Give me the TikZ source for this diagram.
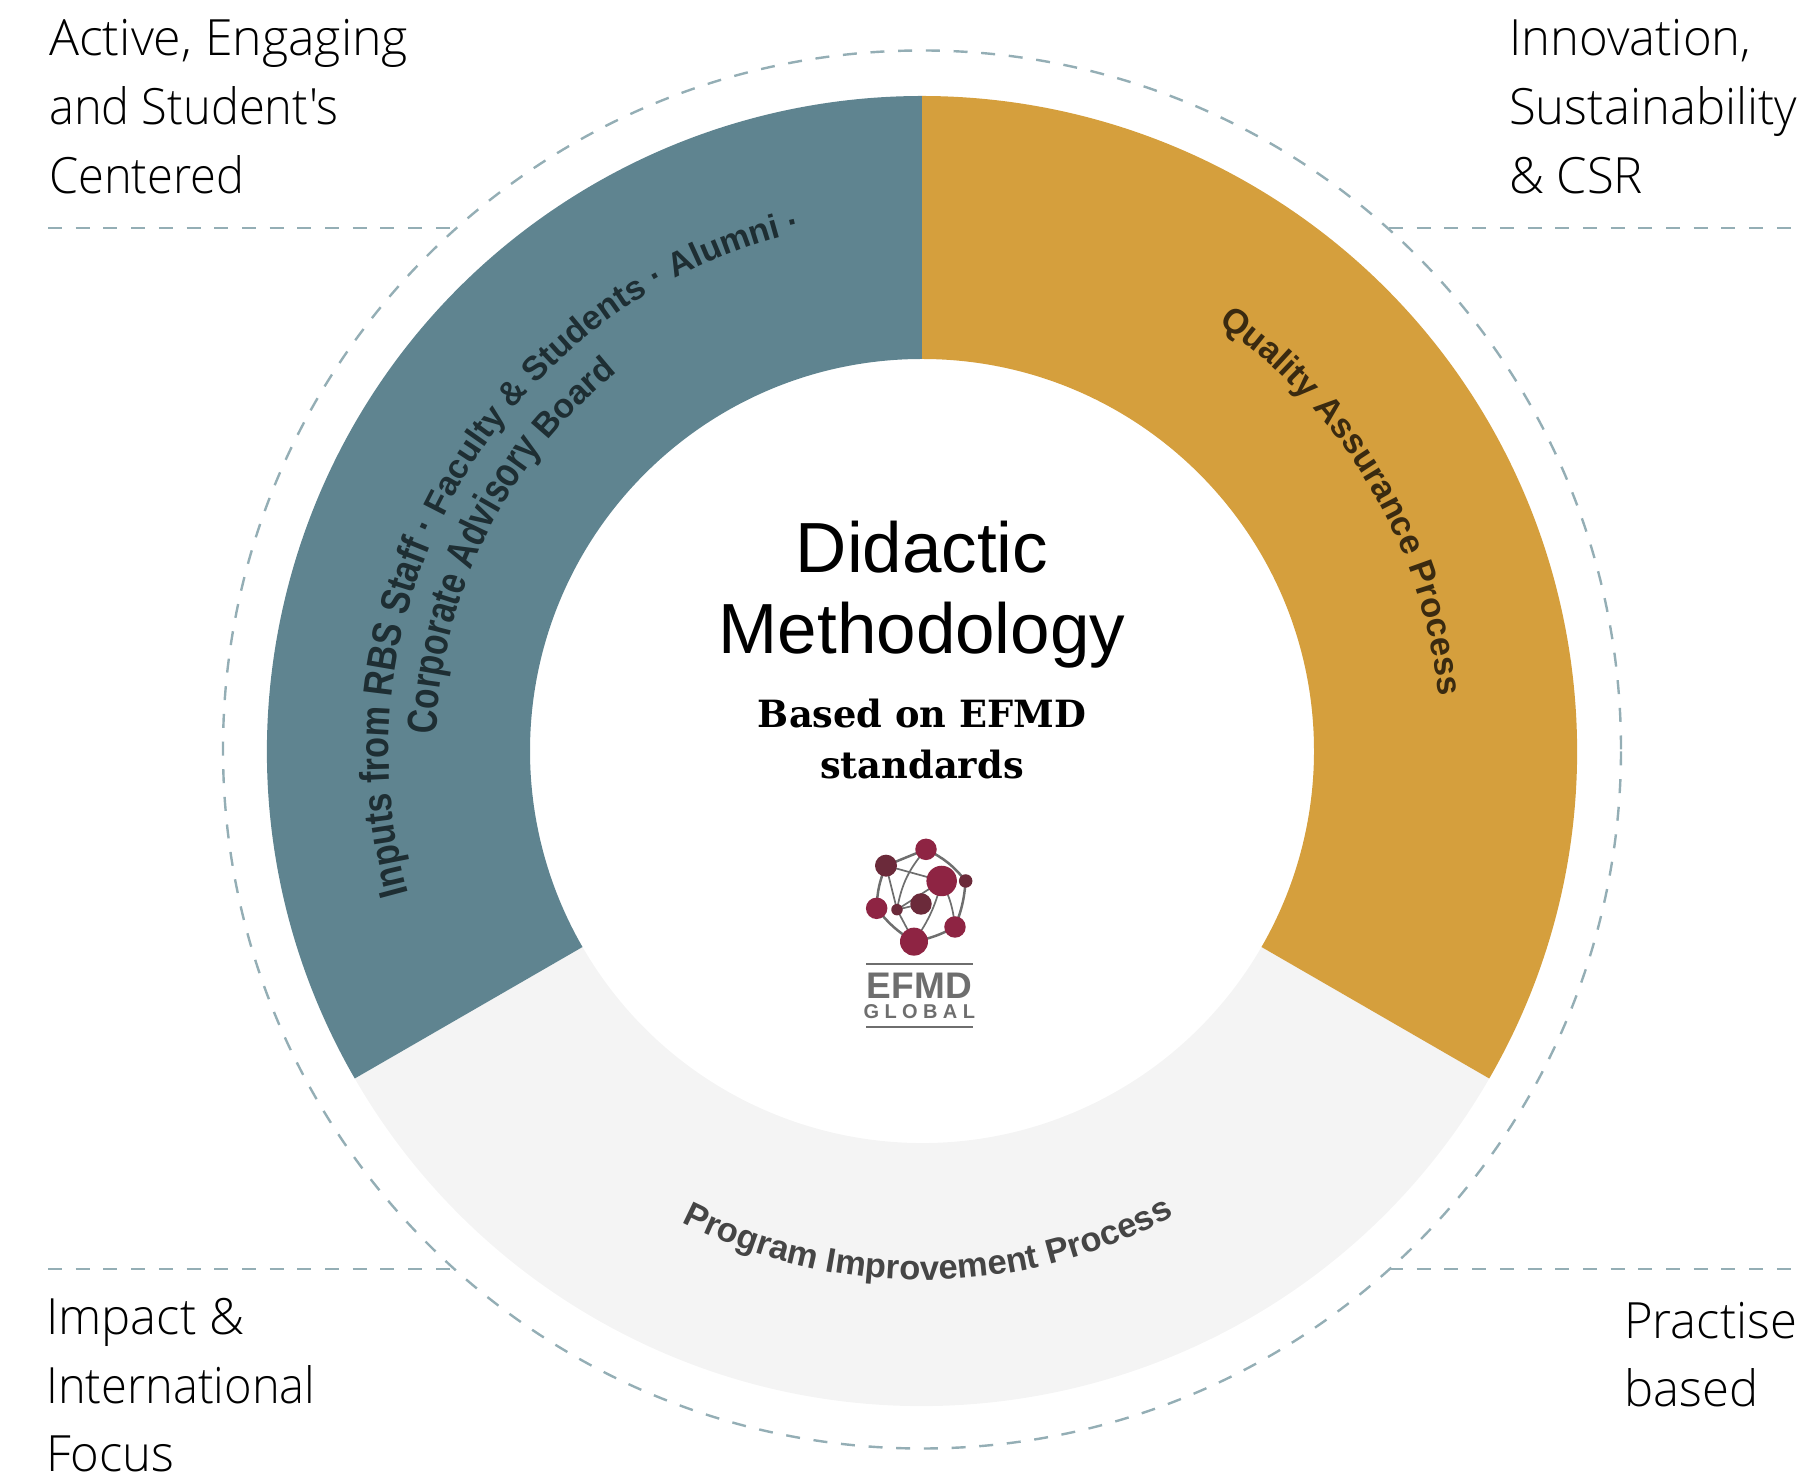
\documentclass[tikz,border=0pt]{standalone}
\usepackage{fontspec}
\usetikzlibrary{decorations.text}
\setmainfont{Liberation Sans}
\newfontfamily\lightf[FakeStretch=0.98]{Open Sans Light}
\newfontfamily\lightn[FakeStretch=0.94]{Open Sans Light}
\newfontfamily\lightw[FakeStretch=1.0]{Open Sans Light}
\newfontfamily\titlef{Liberation Sans}
\newfontfamily\slabf[FakeStretch=0.98]{DejaVu Serif}
\newfontfamily\boldf{Liberation Sans Bold}
\newfontfamily\boldn[FakeStretch=0.835]{Liberation Sans Bold}
\newfontfamily\boldm[FakeStretch=0.79]{Liberation Sans Bold}
\newfontfamily\logof{Liberation Sans Bold}
\newfontfamily\globalf[LetterSpace=27]{Liberation Sans Bold}
\definecolor{tealc}{HTML}{5F8490}
\definecolor{goldc}{HTML}{D59F3D}
\definecolor{grayc}{HTML}{F4F4F4}
\definecolor{dashc}{HTML}{94AEB5}
\definecolor{tealt}{HTML}{1E2E33}
\definecolor{goldt}{HTML}{3A2A10}
\definecolor{grayt}{HTML}{454545}
\definecolor{maroon}{HTML}{8E2443}
\definecolor{maroond}{HTML}{6B2A3A}
\definecolor{logog}{HTML}{6E6E6E}
\tikzset{
  x=1pt,y=1pt,
  dashline/.style={draw=dashc,line width=2.4pt,dash pattern=on 14pt off 13.7pt},
  corner/.style={anchor=base west,align=left,inner sep=0pt,font=\lightf\fontsize{50}{69}\selectfont},
  titletext/.style={inner sep=0pt,anchor=base,font=\titlef\fontsize{71}{82}\selectfont},
  subtext/.style={inner sep=0pt,anchor=base,font=\slabf\bfseries\fontsize{37.5}{50}\selectfont},
  dotb/.style={circle,fill=maroon,inner sep=0pt,minimum size=#1},
  dotd/.style={circle,fill=maroond,inner sep=0pt,minimum size=#1},
  logoline/.style={draw=logog,line width=2.5pt,shorten >=2pt,shorten <=2pt},
  logothin/.style={draw=logog,line width=1.7pt,shorten >=2pt,shorten <=2pt},
  logorule/.style={draw=logog,line width=2.2pt},
}
\def\cx{922}\def\cy{724}\def\ro{655}\def\ri{392}
\begin{document}
\begin{tikzpicture}
\useasboundingbox (0,0) rectangle (1820,1475);
% ring sectors
\fill[grayc] (\cx,\cy) ++(210:\ri) arc[start angle=210,end angle=330,radius=\ri] -- ++(-30:\ro-\ri) arc[start angle=330,end angle=210,radius=\ro] -- cycle;
\fill[tealc] (\cx,\cy) ++(90:\ri) arc[start angle=90,end angle=210,radius=\ri] -- ++(210:\ro-\ri) arc[start angle=210,end angle=90,radius=\ro] -- cycle;
\fill[goldc] (\cx,\cy) ++(90:\ri) arc[start angle=90,end angle=-30,radius=\ri] -- ++(-30:\ro-\ri) arc[start angle=-30,end angle=90,radius=\ro] -- cycle;
% dashed
\draw[dashline] (922,725.5) circle[radius=699];
\coordinate (tl1) at (48,1247); \coordinate (tl2) at (452,1247);
\coordinate (tr1) at (1389,1247); \coordinate (tr2) at (1793,1247);
\coordinate (bl1) at (48,206); \coordinate (bl2) at (452,206);
\coordinate (br1) at (1389,206); \coordinate (br2) at (1793,206);
\draw[dashline] (tl1) -- (tl2);
\draw[dashline] (tr1) -- (tr2);
\draw[dashline] (bl1) -- (bl2);
\draw[dashline] (br1) -- (br2);
% corners
\node[corner,font=\lightw\fontsize{50}{69}\selectfont] (c1) at (49,1419) {Active, Engaging};
\node[corner,font=\lightn\fontsize{50}{69}\selectfont] (c1b) at (49,1350) {and Student's};
\node[corner,font=\lightn\fontsize{50}{69}\selectfont] (c1c) at (49,1281) {Centered};
\node[corner] (c2) at (1509,1419) {Innovation,};
\node[corner] (c2b) at (1509,1350) {Sustainability};
\node[corner] (c2c) at (1509,1281) {\&\ CSR};
\node[corner] (c3) at (46,140) {Impact \&};
\node[corner,font=\lightn\fontsize{50}{69}\selectfont] (c3b) at (46,71) {International};
\node[corner] (c3c) at (46,4) {Focus};
\node[corner] (c4) at (1624,136.5) {Practise};
\node[corner] (c4b) at (1624,68) {based};
% centre
\node[titletext] (t1) at (922,902) {Didactic};
\node[titletext] (t2) at (922,821) {Methodology};
\node[subtext] (s1) at (922,747) {Based on EFMD};
\node[subtext] (s2) at (922,696) {standards};
% curved texts
\path[decorate,decoration={text along path,text align=left,text color=tealt,
  text={|\boldn\fontsize{41}{41}\selectfont|Inputs from RBS Staff · |\boldf\fontsize{34}{34}\selectfont|Faculty {\&} Students · Alumni ·}}]
  (\cx,\cy) ++(195.5:533) arc[start angle=195.5,end angle=95,radius=533];
\path[decorate,decoration={text along path,text align=left,text color=tealt,
  text={|\boldm\fontsize{42}{42}\selectfont|Corporate Advisory |\boldf\fontsize{34}{34}\selectfont|Board}}]
  (\cx,\cy) ++(178:486) arc[start angle=178,end angle=115,radius=486];
\path[decorate,decoration={text along path,text align=left,text color=goldt,
  text={|\boldf\fontsize{34.5}{34.5}\selectfont|Quality Assurance Process}}]
  (\cx,\cy) ++(55.3:520) arc[start angle=55.3,end angle=-5,radius=520];
\path[decorate,decoration={text along path,text align=left,text color=grayt,
  text={|\boldf\fontsize{34.5}{34.5}\selectfont|Program Improvement Process}}]
  (\cx,\cy) ++(243:529) arc[start angle=243,end angle=310,radius=529];
% logo
\begin{scope}[shift={(820,675)},x=0.3333pt,y=-0.3333pt]
\draw[logoline] (198,197) -- (318,148);
\draw[logoline] (318,148) to[bend left=12] (437,243);
\draw[logoline] (437,243) to[bend left=8] (405,381);
\draw[logoline] (405,381) to[bend left=8] (282,425);
\draw[logoline] (282,425) to[bend left=10] (170,325);
\draw[logoline] (170,325) to[bend left=10] (198,197);
\draw[logothin] (198,197) -- (231,329);
\draw[logothin] (318,148) to[bend right=15] (231,329);
\draw[logothin] (198,197) -- (365,243);
\draw[logothin] (231,329) -- (365,243);
\draw[logothin] (365,243) to[bend left=10] (405,381);
\draw[logothin] (365,243) to[bend left=10] (282,425);
\draw[logothin] (231,329) -- (282,425);
\draw[logothin] (231,329) -- (303,312);
\node[dotb=21.5pt] (n1) at (318,148) {};
\node[dotd=22pt] (n2) at (198,197) {};
\node[dotb=30.5pt] (n3) at (365,243) {};
\node[dotd=13.5pt] (n4) at (437,243) {};
\node[dotb=21.5pt] (n5) at (170,325) {};
\node[dotd=11.5pt] (n6) at (231,329) {};
\node[dotd=21.5pt] (n7) at (303,312) {};
\node[dotb=21.5pt] (n8) at (405,381) {};
\node[dotb=28pt] (n9) at (282,425) {};
\coordinate (r1a) at (138,491); \coordinate (r1b) at (458,491);
\coordinate (r2a) at (138,682); \coordinate (r2b) at (458,682);
\draw[logorule] (r1a) -- (r1b);
\draw[logorule] (r2a) -- (r2b);
\node[inner sep=0pt,anchor=base,text=logog,font=\logof\fontsize{37}{37}\selectfont] (e1) at (298,595) {EFMD};
\node[inner sep=0pt,anchor=base,text=logog,font=\globalf\fontsize{20}{20}\selectfont] (e2) at (298,655) {GLOBAL};
\end{scope}
\end{tikzpicture}
\end{document}
